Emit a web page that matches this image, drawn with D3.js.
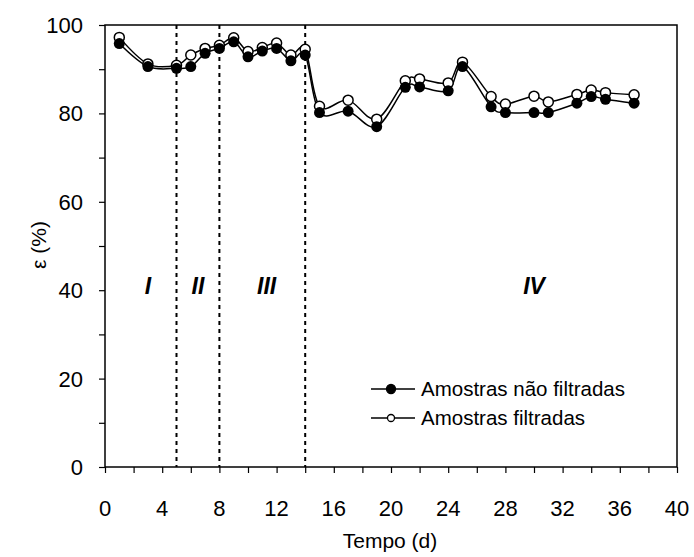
<!DOCTYPE html>
<meta charset="utf-8">
<script src="https://d3js.org/d3.v7.min.js"></script>
<style>
  body { margin: 0; background: #fff; }
  text { font-family: "Liberation Sans", Arial, sans-serif; fill: #000; }
</style>
<div id="chart"></div>
<script>
// days sampled
const days = [1, 3, 5, 6, 7, 8, 9, 10, 11, 12, 13, 14, 15, 17, 19, 21, 22, 24, 25, 27, 28, 30, 31, 33, 34, 35, 37];
// removal efficiency, unfiltered samples (filled markers)
const naoFiltradas = [95.8, 90.6, 90.2, 90.6, 93.6, 94.7, 96.2, 92.8, 94.1, 94.7, 91.9, 93.2, 80.2, 80.5, 77.0, 85.9, 86.0, 85.1, 90.6, 81.5, 80.2, 80.2, 80.2, 82.3, 83.8, 83.2, 82.3];
// filtered samples (open markers)
const filtradas = [97.2, 91.2, 90.9, 93.2, 94.7, 95.4, 97.1, 94.0, 94.9, 95.9, 93.2, 94.5, 81.6, 83.0, 78.7, 87.4, 87.8, 86.9, 91.6, 83.8, 82.1, 83.9, 82.6, 84.3, 85.3, 84.7, 84.2];
// phase limits and labels
const phaseLimits = [5, 8, 14];
const phaseLabels = ["I", "II", "III", "IV"];
const phaseLabelX = [3, 6.5, 11.3, 30];
const xTicks = [0, 4, 8, 12, 16, 20, 24, 28, 32, 36, 40];
const yTicks = [0, 20, 40, 60, 80, 100];

const W = 694, H = 557;
const margin = {top: 25, right: 17, bottom: 90, left: 105};
const width = W - margin.left - margin.right,
      height = H - margin.top - margin.bottom;

const svg = d3.select("#chart").append("svg")
    .attr("width", W).attr("height", H);
const g = svg.append("g")
    .attr("transform", "translate(" + margin.left + "," + margin.top + ")");

const x = d3.scaleLinear().domain([0, 40]).range([0, width]);
const y = d3.scaleLinear().domain([0, 100]).range([height, 0]);

// frame
g.append("rect")
    .attr("width", width).attr("height", height)
    .attr("fill", "none").attr("stroke", "#000").attr("stroke-width", 1.5);

// minor + major ticks
g.append("g")
    .attr("transform", "translate(0," + height + ")")
    .call(d3.axisBottom(x).tickValues(d3.range(0, 41, 2)).tickSize(6).tickFormat(""))
    .call(a => a.select(".domain").remove())
    .selectAll("line").attr("stroke-width", 1.2);
g.append("g")
    .call(d3.axisLeft(y).tickValues(d3.range(0, 101, 10)).tickSize(6).tickFormat(""))
    .call(a => a.select(".domain").remove())
    .selectAll("line").attr("stroke-width", 1.2);

// tick labels
g.selectAll(".xl").data(xTicks).enter().append("text")
    .attr("x", d => x(d)).attr("y", height + 49)
    .attr("text-anchor", "middle").style("font-size", "22px")
    .text(d => d);
g.selectAll(".yl").data(yTicks).enter().append("text")
    .attr("x", -22).attr("y", d => y(d) + 8)
    .attr("text-anchor", "end").style("font-size", "22px")
    .text(d => d);

// axis titles
svg.append("text")
    .attr("x", margin.left + width / 2 - 1).attr("y", 548)
    .attr("text-anchor", "middle").style("font-size", "21px")
    .text("Tempo (d)");
svg.append("text")
    .attr("transform", "translate(46,245) rotate(-90)")
    .attr("text-anchor", "middle").style("font-size", "21px")
    .text("ε (%)");

// phase dividers
g.selectAll(".phase").data(phaseLimits).enter().append("line")
    .attr("x1", d => x(d)).attr("x2", d => x(d))
    .attr("y1", 0).attr("y2", height)
    .attr("stroke", "#000").attr("stroke-width", 2)
    .attr("stroke-dasharray", "4,4");

g.selectAll(".plabel").data(phaseLabels).enter().append("text")
    .attr("x", (d, i) => x(phaseLabelX[i])).attr("y", y(40) + 4)
    .attr("text-anchor", "middle")
    .style("font-size", "23px").style("font-weight", "bold").style("font-style", "italic")
    .text(d => d);

const line = d3.line()
    .x(d => x(d[0])).y(d => y(d[1]))
    .curve(d3.curveCatmullRom.alpha(0));

const s1 = days.map((d, i) => [d, naoFiltradas[i]]);
const s2 = days.map((d, i) => [d, filtradas[i]]);

[s1, s2].forEach(s => {
  g.append("path").datum(s)
      .attr("d", line).attr("fill", "none")
      .attr("stroke", "#000").attr("stroke-width", 1.5);
});

g.selectAll(".open").data(s2).enter().append("circle")
    .attr("cx", d => x(d[0])).attr("cy", d => y(d[1])).attr("r", 5)
    .attr("fill", "#fff").attr("stroke", "#000").attr("stroke-width", 1.5);
g.selectAll(".filled").data(s1).enter().append("circle")
    .attr("cx", d => x(d[0])).attr("cy", d => y(d[1])).attr("r", 5.5)
    .attr("fill", "#000");

// legend
const legend = svg.append("g").attr("transform", "translate(371,389)");
[["Amostras não filtradas", true], ["Amostras filtradas", false]].forEach((it, i) => {
  const lg = legend.append("g").attr("transform", "translate(0," + i * 29 + ")");
  lg.append("line").attr("x1", 0).attr("x2", 44).attr("stroke", "#000").attr("stroke-width", 1.5);
  lg.append("circle").attr("cx", 20).attr("r", it[1] ? 4.5 : 3.5)
      .attr("fill", it[1] ? "#000" : "#fff").attr("stroke", "#000").attr("stroke-width", 1.3);
  lg.append("text").attr("x", 50).attr("y", 7).style("font-size", "20.5px").text(it[0]);
});
</script>
